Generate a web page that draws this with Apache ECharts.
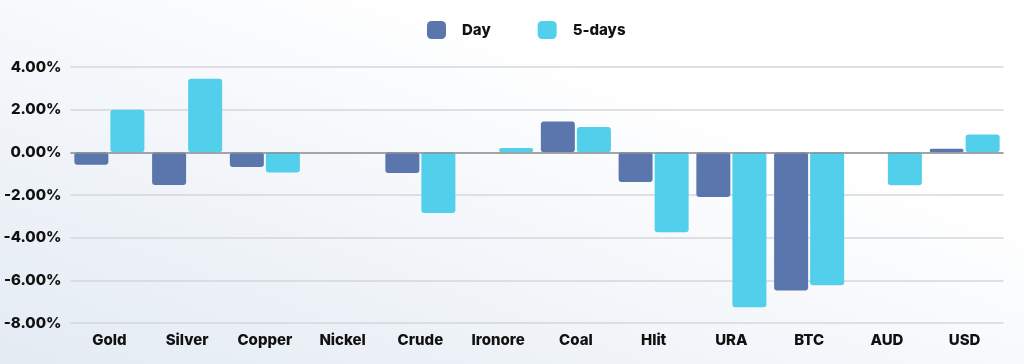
<!DOCTYPE html>
<html>
<head>
<meta charset="utf-8">
<script src="https://cdn.jsdelivr.net/npm/echarts@6/dist/echarts.min.js"></script>
<style>
  html, body { margin: 0; padding: 0; }
  body { width: 1024px; height: 364px; background: linear-gradient(20deg, #e3ebf3 0%, #f3f6fa 40%, #ffffff 70%); }
  #chart { width: 1024px; height: 364px; }
</style>
</head>
<body>
<div id="chart"></div>
<script>
const categories = ['Gold', 'Silver', 'Copper', 'Nickel', 'Crude', 'Ironore', 'Coal', 'Hlit', 'URA', 'BTC', 'AUD', 'USD'];
const dayValues = [-0.58, -1.53, -0.69, 0, -0.97, 0, 1.45, -1.39, -2.09, -6.48, 0, 0.17];
const fiveDayValues = [2.0, 3.45, -0.95, 0, -2.84, 0.2, 1.19, -3.75, -7.26, -6.23, -1.54, 0.84];
const seriesNames = ['Day', '5-days'];

const font = 'Inter, "Open Sans", sans-serif';
const chart = echarts.init(document.getElementById('chart'), null, { renderer: 'canvas' });
chart.setOption({
  backgroundColor: 'transparent',
  animation: false,
  legend: {
    data: seriesNames,
    left: 422,
    top: 16,
    itemWidth: 19,
    itemHeight: 18,
    itemGap: 47,
    icon: 'roundRect',
    textStyle: { fontFamily: font, fontWeight: 800, fontSize: 15, color: '#111', padding: [0, 0, 0, 11] }
  },
  grid: { left: 70.5, right: 20.5, top: 67, bottom: 41, containLabel: false },
  xAxis: {
    type: 'category',
    data: categories,
    axisLine: { show: false },
    axisTick: { show: false },
    axisLabel: { fontFamily: font, fontWeight: 800, fontSize: 15, color: '#111', margin: 10 }
  },
  yAxis: {
    type: 'value',
    min: -8, max: 4, interval: 2,
    axisLine: { show: false },
    axisTick: { show: false },
    splitLine: { lineStyle: { color: '#d3d7dc', width: 1.5 } },
    axisLabel: {
      fontFamily: font, fontWeight: 800, fontSize: 15, color: '#111', margin: 9,
      formatter: v => v.toFixed(2) + '%'
    }
  },
  series: [
    {
      name: seriesNames[0], type: 'bar', data: dayValues,
      barWidth: 34, barGap: '6%',
      itemStyle: { color: '#5a76ad', borderRadius: 3 },
      markLine: {
        silent: true, symbol: 'none', label: { show: false },
        lineStyle: { color: '#8d9196', width: 1.5, type: 'solid' },
        data: [{ yAxis: 0 }]
      }
    },
    {
      name: seriesNames[1], type: 'bar', data: fiveDayValues,
      barWidth: 34, barGap: '6%',
      itemStyle: { color: '#52cfea', borderRadius: 3 }
    }
  ]
});
</script>
</body>
</html>
